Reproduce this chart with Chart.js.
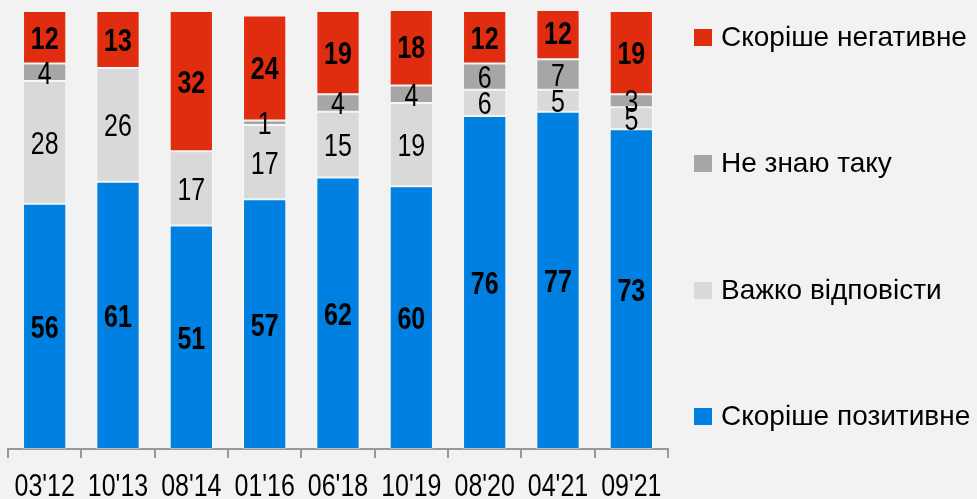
<!DOCTYPE html>
<html>
<head>
<meta charset="utf-8">
<script src="https://cdn.jsdelivr.net/npm/chart.js@4"></script>
<style>
    body { margin: 0; background: #F2F2F2; }
    #wrap { position: relative; width: 977px; height: 499px; overflow: hidden; }
    #legend { position: absolute; left: 0; top: 0; }
    .item { position: absolute; left: 694px; height: 30px; display: flex; align-items: center;
            font-family: "Liberation Sans", Arial, sans-serif;
            font-size: 28px; color: #000; white-space: nowrap; }
    .box { width: 18px; height: 17px; margin-right: 9px; }
</style>
</head>
<body>
<div id="wrap">
    <canvas id="myBarChart" width="977" height="499"></canvas>
    <div id="legend"></div>
</div>
<script>
const categories = ["03'12", "10'13", "08'14", "01'16", "06'18", "10'19", "08'20", "04'21", "09'21"];
const positive = [56, 61, 51, 57, 62, 60, 76, 77, 73];
const hard_to_say = [28, 26, 17, 17, 15, 19, 6, 5, 5];
const dont_know = [4, 0, 0, 1, 4, 4, 6, 7, 3];
const negative = [12, 13, 32, 24, 19, 18, 12, 12, 19];

const series_names = ['Скоріше позитивне', 'Важко відповісти', 'Не знаю таку', 'Скоріше негативне'];
const series_colors = ['#0080E0', '#D9D9D9', '#A6A6A6', '#E02D0F'];
const bold_series = [true, false, false, true];

const font_family = '"Liberation Sans", Arial, sans-serif';
const narrow = 0.78; // squeeze text sideways, like Arial Narrow

window.onload = () => {
    draw_chart();
    draw_legend();
}

function narrow_text(ctx, text, x, y) {
    ctx.save();
    ctx.translate(x, y);
    ctx.scale(narrow, 1);
    ctx.fillText(text, 0, 0);
    ctx.restore();
}

// numbers in the middle of every segment + category labels under the axis
const segment_labels = {
    id: 'segment_labels',
    afterDatasetsDraw(chart) {
        const ctx = chart.ctx;
        ctx.save();
        ctx.textAlign = 'center';
        ctx.textBaseline = 'alphabetic';
        ctx.fillStyle = '#000';
        chart.data.datasets.forEach((ds, i) => {
            const meta = chart.getDatasetMeta(i);
            ctx.font = (bold_series[i] ? 'bold ' : '') + '32px ' + font_family;
            meta.data.forEach((bar, j) => {
                const v = ds.data[j];
                if (!v) return;
                const p = bar.getProps(['x', 'y', 'base'], true);
                narrow_text(ctx, String(v), p.x, (p.y + p.base) / 2 + 11.5);
            });
        });
        const xs = chart.scales.x;
        ctx.font = '32px ' + font_family;
        categories.forEach((c, i) => {
            narrow_text(ctx, c, xs.getPixelForValue(i), 496);
        });
        ctx.restore();
    }
};

function draw_chart() {
    const ctx = document.getElementById('myBarChart').getContext('2d');
    const values = [positive, hard_to_say, dont_know, negative];

    window.myBarChart = new Chart(ctx, {
        type: 'bar',
        data: {
            labels: categories,
            datasets: values.map((v, i) => ({
                label: series_names[i],
                data: v,
                backgroundColor: series_colors[i],
                borderColor: 'rgba(255,255,255,0.35)',
                borderWidth: 1,
                borderSkipped: false,
                barPercentage: 0.59,
                categoryPercentage: 1
            }))
        },
        options: {
            responsive: false,
            animation: false,
            layout: {
                padding: { left: 8, right: 309, top: 11, bottom: 41 }
            },
            plugins: {
                legend: { display: false },
                tooltip: { enabled: false }
            },
            scales: {
                x: {
                    stacked: true,
                    grid: {
                        offset: true,
                        drawOnChartArea: false,
                        color: '#999999',
                        tickLength: 9,
                        lineWidth: 2
                    },
                    border: { color: '#999999', width: 2 },
                    ticks: { display: false }
                },
                y: {
                    stacked: true,
                    display: false,
                    min: 0,
                    max: 100
                }
            }
        },
        plugins: [segment_labels]
    });
}

function draw_legend() {
    const legend = document.getElementById('legend');
    const centers = [37, 163, 290, 416];
    // red on top, blue at the bottom
    [3, 2, 1, 0].forEach((s, k) => {
        const item = document.createElement('div');
        item.className = 'item';
        item.style.top = (centers[k] - 15) + 'px';
        item.innerHTML = '<span class="box" style="background:' + series_colors[s] + '"></span>' + series_names[s];
        legend.appendChild(item);
    });
}
</script>
</body>
</html>
